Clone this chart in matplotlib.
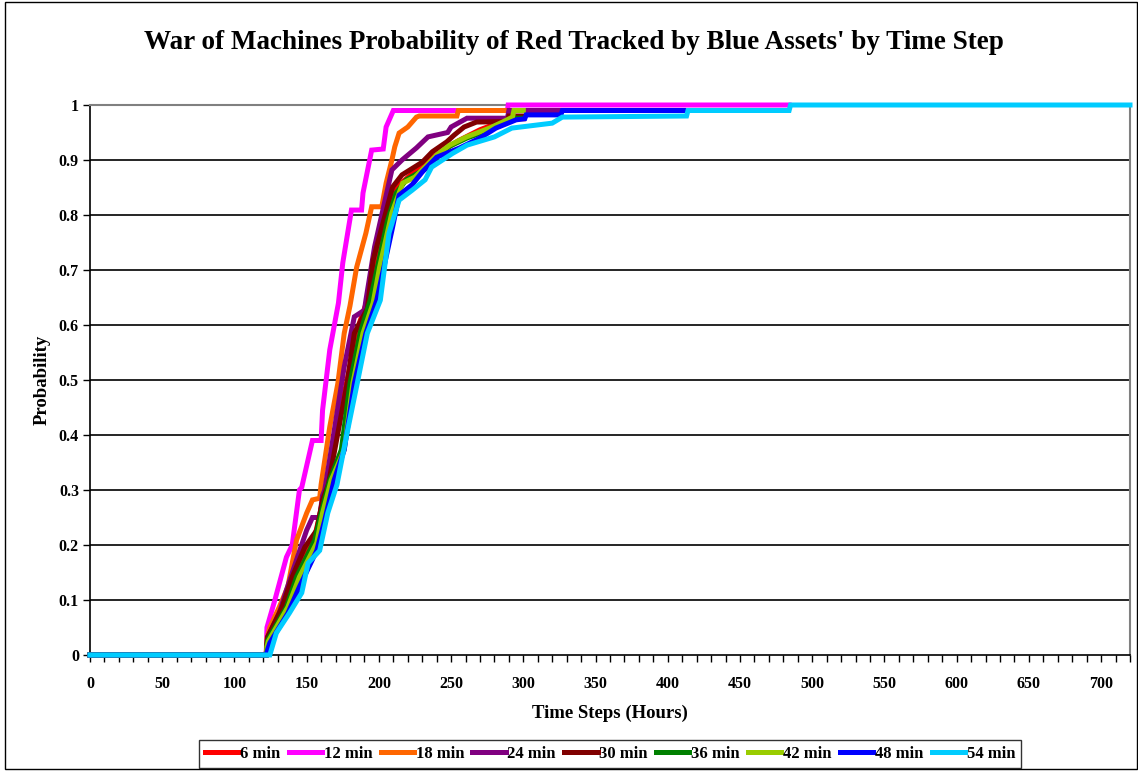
import matplotlib
matplotlib.use("Agg")
import matplotlib.pyplot as plt
from matplotlib.patches import Rectangle

plt.rcParams['font.family'] = ['Liberation Serif', 'DejaVu Serif']
plt.rcParams['font.weight'] = 'bold'

# series labels and colours (Excel default-ish)
labels = ['6 min', '12 min', '18 min', '24 min', '30 min', '36 min', '42 min', '48 min', '54 min']
colors = ['#FF0000', '#FF00FF', '#FF6600', '#800080', '#800000', '#008000', '#99CC00', '#0000FF', '#00CCFF']

# hours / probability knots
x_6 = [0, 122, 122.5, 135, 145, 156, 163, 170, 178, 186, 194, 205, 212, 225, 240, 255, 270, 290, 300]
y_6 = [0, 0, 0.02, 0.09, 0.16, 0.22, 0.3, 0.4, 0.5, 0.6, 0.66, 0.8, 0.85, 0.88, 0.91, 0.935, 0.955, 0.975, 0.975]

x_12 = [0, 122, 122.5, 128, 136, 140, 145, 146.6, 154, 160, 161, 166, 172, 175, 181, 188, 189, 195, 203, 205, 210, 289, 289.5, 484]
y_12 = [0, 0, 0.05, 0.1, 0.178, 0.2, 0.3, 0.305, 0.39, 0.39, 0.445, 0.555, 0.64, 0.713, 0.809, 0.809, 0.84, 0.918, 0.92, 0.96, 0.99, 0.99, 1.0, 1.0]

x_18 = [0, 122, 122.5, 124.5, 131, 137, 140, 143, 150, 154, 159, 160, 166, 171.6, 176, 180, 184.6, 191, 195, 202, 205, 209, 211, 214, 220, 226, 228, 254, 255, 289]
y_18 = [0, 0, 0.03, 0.05, 0.087, 0.124, 0.167, 0.209, 0.258, 0.282, 0.285, 0.31, 0.415, 0.494, 0.585, 0.635, 0.705, 0.767, 0.815, 0.815, 0.858, 0.9, 0.924, 0.949, 0.96, 0.978, 0.98, 0.98, 0.99, 0.99]

x_24 = [0, 122, 122.5, 123, 131, 136, 143, 150, 154, 159, 161, 162.5, 167, 176, 183, 190, 191, 197, 209, 216, 226, 234, 247.6, 250, 261, 289, 290, 326]
y_24 = [0, 0, 0.02, 0.033, 0.076, 0.118, 0.173, 0.227, 0.25, 0.25, 0.29, 0.3, 0.373, 0.524, 0.615, 0.627, 0.645, 0.742, 0.882, 0.9, 0.922, 0.942, 0.95, 0.96, 0.976, 0.976, 0.99, 0.99]

x_30 = [0, 122, 122.5, 123, 133, 140, 148.7, 157, 161, 165, 178, 183, 192, 196, 209.5, 216, 230, 237, 247, 252, 259, 267.6, 289, 290, 300]
y_30 = [0, 0, 0.02, 0.033, 0.087, 0.142, 0.196, 0.227, 0.282, 0.31, 0.494, 0.585, 0.63, 0.718, 0.851, 0.873, 0.896, 0.915, 0.933, 0.945, 0.96, 0.969, 0.97, 0.98, 0.98]

x_36 = [0, 122, 122.5, 123, 136, 143, 155.6, 160, 166, 174, 180, 187, 194, 206, 212, 219, 233, 240, 249, 261, 277, 286, 293, 300]
y_36 = [0, 0, 0.015, 0.027, 0.087, 0.142, 0.209, 0.258, 0.318, 0.373, 0.494, 0.585, 0.645, 0.79, 0.84, 0.864, 0.885, 0.905, 0.925, 0.94, 0.955, 0.967, 0.976, 0.976]

x_42 = [0, 122, 122.5, 123.5, 137, 145, 157, 161, 167, 176, 182, 189, 196, 200.5, 209, 216.5, 225, 233, 240, 249, 260.7, 276.6, 285.6, 292.5, 293.5, 300]
y_42 = [0, 0, 0.015, 0.025, 0.087, 0.142, 0.204, 0.258, 0.318, 0.373, 0.494, 0.585, 0.64, 0.705, 0.804, 0.858, 0.869, 0.89, 0.909, 0.927, 0.942, 0.958, 0.969, 0.978, 0.99, 0.99]

x_48 = [0, 122, 123, 124.5, 137, 145, 157, 162.5, 169, 176, 183, 191, 198.5, 209.5, 214, 223, 230, 240, 256, 270, 281, 295, 301, 302, 326, 327, 413]
y_48 = [0, 0, 0.01, 0.022, 0.076, 0.124, 0.19, 0.245, 0.318, 0.373, 0.494, 0.585, 0.645, 0.778, 0.836, 0.855, 0.878, 0.905, 0.922, 0.94, 0.958, 0.973, 0.975, 0.982, 0.982, 0.99, 0.99]

x_54 = [0, 124.5, 129, 138, 146.6, 151, 159, 164.6, 171, 178, 185, 192, 201, 207, 214, 223, 232, 236.5, 251, 261, 280, 292, 320, 327, 413, 414, 484, 485, 720]
y_54 = [0, 0, 0.04, 0.076, 0.113, 0.167, 0.19, 0.258, 0.31, 0.404, 0.494, 0.585, 0.645, 0.767, 0.827, 0.845, 0.864, 0.887, 0.912, 0.927, 0.942, 0.958, 0.967, 0.978, 0.98, 0.99, 0.99, 1.0, 1.0]

xs = [x_6, x_12, x_18, x_24, x_30, x_36, x_42, x_48, x_54]
ys = [y_6, y_12, y_18, y_24, y_30, y_36, y_42, y_48, y_54]

fig = plt.figure(figsize=(11.38, 7.71), dpi=100)
ax = fig.add_axes([90/1138, 116/771, 1040/1138, 550/771])

for y in [0.1, 0.2, 0.3, 0.4, 0.5, 0.6, 0.7, 0.8, 0.9]:
    ax.axhline(y, color='black', lw=1.2, zorder=1)

for x, y, c, lab in zip(xs, ys, colors, labels):
    ax.plot(x, y, color=c, lw=3.6, label=lab, clip_on=False, zorder=3,
            solid_joinstyle='miter')

ax.set_xlim(0, 720)
ax.set_ylim(0, 1)
ax.set_xticks(range(0, 701, 50))
ax.set_xticks(range(0, 721, 10), minor=True)
ax.set_yticks([0, 0.1, 0.2, 0.3, 0.4, 0.5, 0.6, 0.7, 0.8, 0.9, 1])
ax.set_yticklabels(['0', '0.1', '0.2', '0.3', '0.4', '0.5', '0.6', '0.7', '0.8', '0.9', '1'])
ax.tick_params(axis='both', which='both', direction='out', length=5, width=1, labelsize=11.5)
ax.tick_params(axis='x', which='major', pad=10)
ax.tick_params(axis='y', pad=3)

for s in ['left', 'bottom']:
    ax.spines[s].set_color('black')
    ax.spines[s].set_linewidth(1.2)
for s in ['top', 'right']:
    ax.spines[s].set_color('#808080')
    ax.spines[s].set_linewidth(1.5)

ax.set_xlabel('Time Steps (Hours)', fontsize=13.5, fontweight='bold', labelpad=9)
ax.set_ylabel('Probability', fontsize=13.5, fontweight='bold', labelpad=6)
fig.text(0.504, 0.945, "War of Machines Probability of Red Tracked by Blue Assets' by Time Step",
         ha='center', va='center', fontsize=19.5, fontweight='bold')

leg = fig.legend(loc='center', bbox_to_anchor=(610/1138, 17/771), ncol=9, fontsize=12,
                 frameon=True, fancybox=False, edgecolor='black', handlelength=2.0,
                 handletextpad=0.1, columnspacing=0.5, borderpad=0.35)
leg.get_frame().set_linewidth(1.0)

fig.patches.append(Rectangle((0.004, 0.002), 0.995, 0.996, transform=fig.transFigure,
                             fill=False, edgecolor='black', lw=1))

fig.savefig('out.png', dpi=100)
